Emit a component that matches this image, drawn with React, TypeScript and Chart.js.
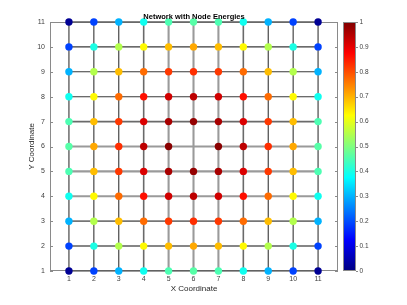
import React, { useEffect, useRef } from "react";
import { Chart, registerables } from "chart.js";

Chart.register(...registerables);

// ---------- data ----------
const xTicks = [1, 2, 3, 4, 5, 6, 7, 8, 9, 10, 11];
const yTicks = [1, 2, 3, 4, 5, 6, 7, 8, 9, 10, 11];
const colorbarTicks = [0, 0.1, 0.2, 0.3, 0.4, 0.5, 0.6, 0.7, 0.8, 0.9, 1];

// node rows from top (y = 11) down to bottom (y = 1); null = no node drawn
const rowY = [11, 10, 9, 8, 7, 6, 5, 4, 3, 2, 1];
const energyRows: (number | null)[][] = [
  [0.02, 0.19, 0.3, 0.39, 0.45, 0.46, 0.45, 0.39, 0.3, 0.19, 0.02],
  [0.19, 0.4, 0.55, 0.63, 0.69, 0.71, 0.69, 0.63, 0.55, 0.4, 0.19],
  [0.3, 0.55, 0.69, 0.77, 0.82, 0.83, 0.82, 0.77, 0.69, 0.55, 0.3],
  [0.39, 0.63, 0.77, 0.86, 0.92, 0.94, 0.92, 0.86, 0.77, 0.63, 0.39],
  [0.45, 0.69, 0.82, 0.91, 0.96, 0.98, 0.96, 0.91, 0.82, 0.69, 0.45],
  [0.46, 0.71, 0.83, 0.94, 0.99, null, 0.99, 0.94, 0.83, 0.71, 0.46],
  [0.45, 0.69, 0.82, 0.91, 0.96, 0.98, 0.96, 0.91, 0.82, 0.69, 0.45],
  [0.39, 0.63, 0.77, 0.86, 0.92, 0.94, 0.92, 0.86, 0.77, 0.63, 0.39],
  [0.3, 0.55, 0.69, 0.77, 0.82, 0.83, 0.82, 0.77, 0.69, 0.55, 0.3],
  [0.19, 0.4, 0.55, 0.63, 0.69, 0.71, 0.69, 0.63, 0.55, 0.4, 0.19],
  [0.02, 0.19, 0.3, 0.39, 0.45, 0.46, 0.45, 0.39, 0.3, 0.19, 0.02],
];

// link weights of the horizontal links (y = 1..11) and vertical links (x = 1..11)
const rowLinkWeight = [0.1, 0.4, 0.6, 0.9, 0.9, 0.9, 0.5, 0.1, 0.1, 0.1, 0.4];
const colLinkWeight = [0.1, 0.1, 0.1, 0.5, 0.9, 0.9, 0.9, 0.5, 0.1, 0.1, 0.1];

// ---------- helpers ----------
const FONT = '"Liberation Sans", Arial, Helvetica, sans-serif';

function jetRGB(v: number): [number, number, number] {
  const f = (t: number) => Math.max(0, Math.min(1, t));
  const r = f(Math.min(4 * v - 1.5, -4 * v + 4.5));
  const g = f(Math.min(4 * v - 0.5, -4 * v + 3.5));
  const b = f(Math.min(4 * v + 0.5, -4 * v + 2.5));
  return [Math.round(r * 255), Math.round(g * 255), Math.round(b * 255)];
}
function jet(v: number): string {
  const [r, g, b] = jetRGB(v);
  return `rgb(${r},${g},${b})`;
}
function linkStyle(w: number) {
  const g = Math.round(255 * (0.18 + 0.47 * w));
  return { color: `rgb(${g},${g},${g})`, width: 1 + 1.2 * w };
}

const decorPlugin = {
  id: "decor",
  beforeDatasetsDraw(chart: any) {
    const { ctx, chartArea: a, scales } = chart;
    const xs = scales.x;
    const ys = scales.y;
    ctx.save();
    ctx.strokeStyle = "#8a8a8a";
    ctx.lineWidth = 1;
    ctx.strokeRect(a.left + 0.5, a.top + 0.5, a.right - a.left - 1, a.bottom - a.top - 1);
    ctx.beginPath();
    yTicks.forEach((v) => {
      const p = Math.round(ys.getPixelForValue(v)) + 0.5;
      ctx.moveTo(a.left, p);
      ctx.lineTo(a.left + 3, p);
      ctx.moveTo(a.right, p);
      ctx.lineTo(a.right - 3, p);
    });
    xTicks.forEach((v) => {
      const p = Math.round(xs.getPixelForValue(v)) + 0.5;
      ctx.moveTo(p, a.bottom);
      ctx.lineTo(p, a.bottom - 3);
      ctx.moveTo(p, a.top);
      ctx.lineTo(p, a.top + 3);
    });
    ctx.stroke();
    ctx.restore();
  },
  afterDraw(chart: any) {
    const { ctx, chartArea: a } = chart;
    ctx.save();
    ctx.fillStyle = "#000";
    ctx.font = `bold 7.5px ${FONT}`;
    ctx.textAlign = "center";
    ctx.textBaseline = "middle";
    ctx.fillText("Network with Node Energies", (a.left + a.right) / 2, a.top - 5.5);

    const cbL = a.right + 5;
    const cbR = a.right + 18;
    const cbT = a.top;
    const cbB = a.bottom;
    const grad = ctx.createLinearGradient(0, cbB, 0, cbT);
    for (let i = 0; i <= 64; i++) {
      const v = i / 64;
      grad.addColorStop(v, jet(v));
    }
    ctx.fillStyle = grad;
    ctx.fillRect(cbL, cbT, cbR - cbL, cbB - cbT);
    ctx.strokeStyle = "#8a8a8a";
    ctx.lineWidth = 1;
    ctx.strokeRect(cbL + 0.5, cbT + 0.5, cbR - cbL - 1, cbB - cbT - 1);
    ctx.font = `6.5px ${FONT}`;
    ctx.fillStyle = "#404040";
    ctx.textAlign = "left";
    ctx.textBaseline = "middle";
    ctx.beginPath();
    colorbarTicks.forEach((v) => {
      const p = cbB - v * (cbB - cbT);
      const pr = Math.round(p) + 0.5;
      ctx.moveTo(cbR, pr);
      ctx.lineTo(cbR + 2, pr);
      ctx.fillText(String(v), cbR + 3.5, p);
    });
    ctx.strokeStyle = "#8a8a8a";
    ctx.stroke();
    ctx.restore();
  },
};

export default function App() {
  const canvasRef = useRef<HTMLCanvasElement | null>(null);

  useEffect(() => {
    const canvas = canvasRef.current;
    if (!canvas) return;

    const nodes: { x: number; y: number }[] = [];
    const nodeColors: string[] = [];
    energyRows.forEach((row, i) => {
      row.forEach((e, j) => {
        if (e === null) return;
        nodes.push({ x: xTicks[j], y: rowY[i] });
        nodeColors.push(jet(e));
      });
    });

    const linkSets: any[] = [];
    yTicks.forEach((yv, i) => {
      const s = linkStyle(rowLinkWeight[i]);
      linkSets.push({
        type: "line",
        data: [
          { x: xTicks[0], y: yv },
          { x: xTicks[xTicks.length - 1], y: yv },
        ],
        borderColor: s.color,
        borderWidth: s.width,
        pointRadius: 0,
        clip: false,
        order: 10 + Math.round(rowLinkWeight[i] * 10),
      });
    });
    xTicks.forEach((xv, i) => {
      const s = linkStyle(colLinkWeight[i]);
      linkSets.push({
        type: "line",
        data: [
          { x: xv, y: yTicks[0] },
          { x: xv, y: yTicks[yTicks.length - 1] },
        ],
        borderColor: s.color,
        borderWidth: s.width,
        pointRadius: 0,
        clip: false,
        order: 10 + Math.round(colLinkWeight[i] * 10),
      });
    });

    const chart = new Chart(canvas, {
      type: "scatter",
      data: {
        datasets: [
          {
            type: "scatter",
            data: nodes,
            backgroundColor: nodeColors,
            borderWidth: 0,
            pointRadius: 3.7,
            pointHoverRadius: 3.7,
            clip: false,
            order: 0,
          } as any,
          ...linkSets,
        ],
      },
      plugins: [decorPlugin],
      options: {
        animation: false,
        responsive: false,
        events: [],
        layout: { padding: { left: 0, right: 69, top: 22, bottom: 0 } },
        plugins: { legend: { display: false }, tooltip: { enabled: false }, title: { display: false } },
        scales: {
          x: {
            type: "linear",
            min: 0.24,
            max: 11.8,
            grid: { display: false, drawTicks: false },
            border: { display: false },
            afterBuildTicks: (s: any) => {
              s.ticks = xTicks.map((v) => ({ value: v }));
            },
            afterFit: (s: any) => {
              s.height = 34;
            },
            ticks: {
              padding: 4,
              font: { family: FONT, size: 7 },
              color: "#404040",
              maxRotation: 0,
              autoSkip: false,
              callback: (v: any) => String(v),
            },
            title: {
              display: true,
              text: "X Coordinate",
              color: "#262626",
              font: { family: FONT, size: 8 },
              padding: { top: 0, bottom: 11 },
            },
          },
          y: {
            type: "linear",
            min: 1,
            max: 11,
            grid: { display: false, drawTicks: false },
            border: { display: false },
            afterBuildTicks: (s: any) => {
              s.ticks = yTicks.map((v) => ({ value: v }));
            },
            afterFit: (s: any) => {
              s.width = 50;
            },
            ticks: {
              padding: 5,
              font: { family: FONT, size: 7 },
              color: "#404040",
              autoSkip: false,
              callback: (v: any) => String(v),
            },
            title: {
              display: true,
              text: "Y Coordinate",
              color: "#262626",
              font: { family: FONT, size: 8 },
              padding: { top: 27, bottom: 0 },
            },
          },
        },
      } as any,
    });
    return () => chart.destroy();
  }, []);

  return (
    <div style={{ position: "fixed", left: 0, top: 0, width: 407, height: 305, background: "#fff" }}>
      <canvas ref={canvasRef} width={407} height={305} style={{ display: "block" }} />
    </div>
  );
}
